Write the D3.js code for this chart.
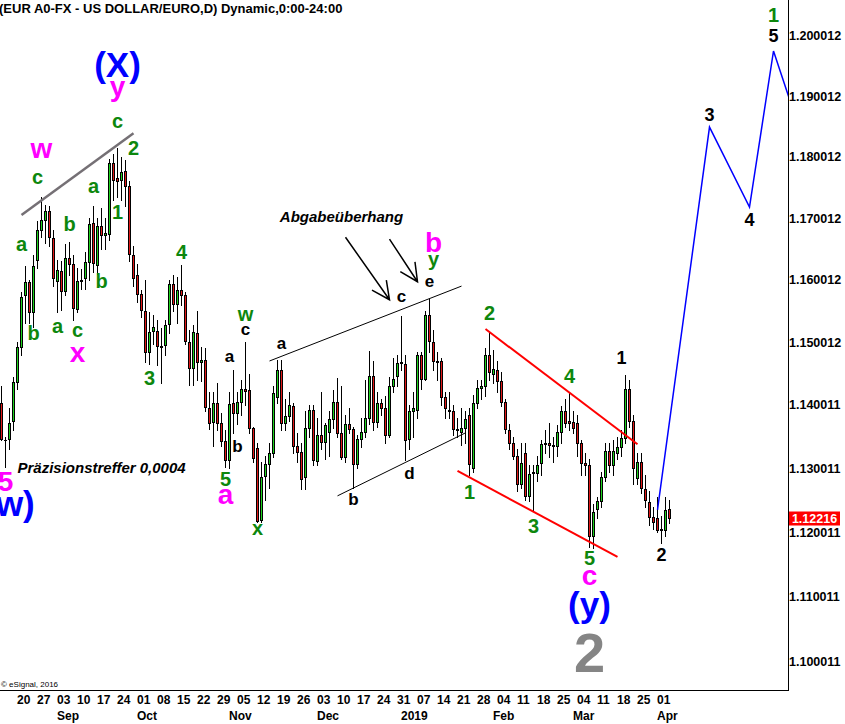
<!DOCTYPE html>
<html><head><meta charset="utf-8">
<script src="https://cdn.jsdelivr.net/npm/d3@7"></script>
<style>
body{margin:0;background:#fff;}
svg{display:block;font-family:"Liberation Sans",Arial,Helvetica,sans-serif;}
</style>
</head><body>
<svg id="c" width="845" height="724"></svg>
<script>
// ---------------- DATA ----------------
// daily OHLC rows: [day, open, high, low, close]
const aug2018 = [
 [14,1.1404,1.1430,1.1345,1.1346],[15,1.1345,1.1350,1.1302,1.1344],[16,1.1346,1.1395,1.1330,1.1372],
 [17,1.1375,1.1445,1.1360,1.1437],[20,1.1437,1.1500,1.1425,1.1493],[21,1.1492,1.1580,1.1480,1.1573],
 [22,1.1576,1.1623,1.1530,1.1597],[23,1.1597,1.1600,1.1530,1.1549],[24,1.1548,1.1640,1.1525,1.1622],
 [27,1.1632,1.1695,1.1620,1.1680],[28,1.1681,1.1735,1.1670,1.1697],[29,1.1697,1.1722,1.1660,1.1711],
 [30,1.1711,1.1720,1.1655,1.1669],[31,1.1667,1.1680,1.1590,1.1603]
];
const sep2018 = [
 [3,1.1598,1.1632,1.1548,1.1616],[4,1.1614,1.1630,1.1552,1.1582],[5,1.1582,1.1658,1.1576,1.1635],
 [6,1.1635,1.1662,1.1608,1.1625],[7,1.1625,1.1640,1.1535,1.1555],[10,1.1553,1.1620,1.1548,1.1598],
 [11,1.1598,1.1617,1.1585,1.1600],[12,1.1603,1.1645,1.1585,1.1629],[13,1.1629,1.1700,1.1600,1.1690],
 [14,1.1692,1.1720,1.1612,1.1627],[17,1.1624,1.1700,1.1610,1.1687],[18,1.1687,1.1717,1.1650,1.1673],
 [19,1.1673,1.1700,1.1650,1.1676],[20,1.1675,1.1797,1.1665,1.1790],[21,1.1790,1.1805,1.1730,1.1762],
 [24,1.1765,1.1815,1.1735,1.1760],[25,1.1762,1.1800,1.1730,1.1775],[26,1.1777,1.1795,1.1720,1.1753],
 [27,1.1752,1.1760,1.1630,1.1642],[28,1.1641,1.1655,1.1590,1.1603]
];
const oct2018 = [
 [1,1.1608,1.1625,1.1565,1.1577],[2,1.1577,1.1584,1.1541,1.1551],[3,1.1550,1.1600,1.1468,1.1485],
 [4,1.1484,1.1548,1.1465,1.1517],[5,1.1518,1.1543,1.1497,1.1525],[8,1.1518,1.1535,1.1464,1.1494],
 [9,1.1494,1.1523,1.1435,1.1492],[10,1.1495,1.1535,1.1480,1.1528],[11,1.1529,1.1600,1.1515,1.1594],
 [12,1.1594,1.1608,1.1550,1.1562],[15,1.1562,1.1605,1.1530,1.1583],[16,1.1584,1.1624,1.1560,1.1575],
 [17,1.1576,1.1580,1.1497,1.1502],[18,1.1501,1.1520,1.1432,1.1459],[19,1.1459,1.1528,1.1432,1.1516],
 [22,1.1514,1.1550,1.1440,1.1469],[23,1.1469,1.1493,1.1438,1.1471],[24,1.1472,1.1490,1.1390,1.1397],
 [25,1.1395,1.1420,1.1362,1.1371],[26,1.1373,1.1420,1.1336,1.1403],[29,1.1403,1.1435,1.1360,1.1371],
 [30,1.1371,1.1388,1.1336,1.1343],[31,1.1343,1.1360,1.1302,1.1314]
];
const nov2018 = [
 [1,1.1314,1.1420,1.1300,1.1401],[2,1.1403,1.1456,1.1356,1.1387],[5,1.1388,1.1420,1.1370,1.1405],
 [6,1.1405,1.1440,1.1385,1.1425],[7,1.1425,1.1500,1.1400,1.1422],[8,1.1424,1.1450,1.1355,1.1364],
 [9,1.1363,1.1366,1.1310,1.1316],[12,1.1332,1.1340,1.1216,1.1218],[13,1.1220,1.1310,1.1216,1.1286],
 [14,1.1288,1.1319,1.1250,1.1307],[15,1.1307,1.1340,1.1270,1.1325],[16,1.1325,1.1430,1.1318,1.1419],
 [19,1.1412,1.1472,1.1403,1.1455],[20,1.1455,1.1472,1.1360,1.1371],[21,1.1371,1.1410,1.1360,1.1382],
 [22,1.1382,1.1420,1.1375,1.1400],[23,1.1398,1.1404,1.1325,1.1335],[26,1.1335,1.1355,1.1310,1.1326],
 [27,1.1326,1.1340,1.1267,1.1284],[28,1.1286,1.1390,1.1267,1.1364],[29,1.1364,1.1400,1.1350,1.1392],
 [30,1.1392,1.1400,1.1305,1.1314]
];
const dec2018 = [
 [3,1.1312,1.1380,1.1305,1.1352],[4,1.1352,1.1420,1.1330,1.1341],[5,1.1341,1.1372,1.1315,1.1368],
 [6,1.1357,1.1390,1.1320,1.1378],[7,1.1378,1.1424,1.1363,1.1405],[10,1.1405,1.1443,1.1350,1.1355],
 [11,1.1355,1.1430,1.1315,1.1318],[12,1.1318,1.1385,1.1310,1.1370],[13,1.1370,1.1395,1.1355,1.1362],
 [14,1.1362,1.1366,1.1269,1.1307],[17,1.1307,1.1352,1.1300,1.1346],[18,1.1346,1.1380,1.1333,1.1358],
 [19,1.1358,1.1440,1.1350,1.1380],[20,1.1380,1.1486,1.1370,1.1446],[21,1.1446,1.1470,1.1360,1.1373],
 [24,1.1373,1.1420,1.1365,1.1403],[25,1.1403,1.1410,1.1385,1.1395],[26,1.1395,1.1415,1.1340,1.1353],
 [27,1.1353,1.1445,1.1350,1.1430],[28,1.1430,1.1475,1.1420,1.1441],[31,1.1446,1.1480,1.1430,1.1466]
];
const jan2019 = [
 [1,1.1466,1.1542,1.1455,1.1468],[2,1.1465,1.1480,1.1313,1.1345],[3,1.1346,1.1400,1.1330,1.1391],
 [4,1.1391,1.1420,1.1350,1.1395],[7,1.1392,1.1485,1.1380,1.1480],[8,1.1480,1.1485,1.1425,1.1442],
 [9,1.1442,1.1550,1.1440,1.1544],[10,1.1544,1.1570,1.1485,1.1502],[11,1.1501,1.1520,1.1455,1.1470],
 [14,1.1470,1.1485,1.1440,1.1469],[15,1.1470,1.1475,1.1400,1.1412],[16,1.1412,1.1420,1.1380,1.1395],
 [17,1.1392,1.1420,1.1380,1.1390],[18,1.1390,1.1400,1.1352,1.1362],[21,1.1362,1.1380,1.1350,1.1360],
 [22,1.1358,1.1396,1.1337,1.1363],[23,1.1363,1.1390,1.1340,1.1378],[24,1.1384,1.1395,1.1290,1.1307],
 [25,1.1300,1.1416,1.1295,1.1404],[28,1.1404,1.1440,1.1395,1.1427],[29,1.1427,1.1440,1.1410,1.1430],
 [30,1.1430,1.1490,1.1415,1.1480],[31,1.1480,1.1515,1.1440,1.1452]
];
const feb2019 = [
 [1,1.1450,1.1488,1.1435,1.1458],[4,1.1455,1.1470,1.1420,1.1438],[5,1.1438,1.1452,1.1398,1.1405],
 [6,1.1405,1.1410,1.1355,1.1362],[7,1.1360,1.1370,1.1330,1.1340],[8,1.1340,1.1350,1.1315,1.1320],
 [11,1.1320,1.1330,1.1265,1.1275],[12,1.1276,1.1340,1.1270,1.1309],[13,1.1325,1.1340,1.1250,1.1257],
 [14,1.1257,1.1305,1.1249,1.1292],[15,1.1293,1.1305,1.1234,1.1295],[18,1.1293,1.1320,1.1280,1.1305],
 [19,1.1309,1.1345,1.1290,1.1339],[20,1.1339,1.1360,1.1325,1.1340],[21,1.1340,1.1372,1.1318,1.1337],
 [22,1.1337,1.1350,1.1310,1.1335],[25,1.1336,1.1368,1.1320,1.1358],[26,1.1358,1.1398,1.1340,1.1390],
 [27,1.1390,1.1410,1.1365,1.1371],[28,1.1375,1.1420,1.1360,1.1372]
];
const mar2019 = [
 [1,1.1373,1.1390,1.1355,1.1363],[4,1.1371,1.1385,1.1320,1.1340],[5,1.1340,1.1345,1.1290,1.1308],
 [6,1.1308,1.1325,1.1290,1.1306],[7,1.1305,1.1315,1.1178,1.1194],[8,1.1194,1.1245,1.1176,1.1231],
 [11,1.1237,1.1255,1.1222,1.1249],[12,1.1249,1.1295,1.1240,1.1286],[13,1.1286,1.1340,1.1280,1.1327],
 [14,1.1327,1.1340,1.1295,1.1305],[15,1.1305,1.1345,1.1290,1.1327],[18,1.1325,1.1350,1.1315,1.1334],
 [19,1.1334,1.1360,1.1320,1.1348],[20,1.1348,1.1448,1.1340,1.1425],[21,1.1425,1.1440,1.1365,1.1374],
 [22,1.1374,1.1385,1.1275,1.1300],[25,1.1285,1.1325,1.1275,1.1310],[26,1.1310,1.1325,1.1262,1.1270],
 [27,1.1268,1.1290,1.1240,1.1250],[28,1.1248,1.1265,1.1212,1.1224],[29,1.1224,1.1240,1.1205,1.1216]
];
const apr2019 = [
 [1,1.1222,1.1255,1.1200,1.1204],[2,1.1204,1.1225,1.1183,1.1206],[3,1.1204,1.1255,1.1195,1.1235],
 [4,1.1237,1.1250,1.1215,1.1222]
];
const currentPrice = 1.12216;

// projected path [date, price]
const projection = [["2019-04-01",1.1235],["2019-04-18",1.1849],["2019-05-02",1.1718],["2019-05-10",1.1975],["2019-05-16",1.1895]];

// drawn trend lines [date, price] pairs
const grayTrend = [["2018-08-21",1.1705],["2018-09-28",1.1839]];
const channelUpper = [["2018-11-15",1.1470],["2019-01-22",1.1590]];
const channelLower = [["2018-12-10",1.1257],["2019-01-23",1.1356]];
const redUpper = [["2019-01-30",1.1521],["2019-03-25",1.1338]];
const redLower = [["2019-01-21",1.1296],["2019-03-18",1.1162]];
const arrows = [[["2018-12-12",1.1669],["2018-12-27",1.1568]],[["2018-12-27",1.1666],["2019-01-07",1.1597]]];

// axis labels
const priceTicks = ["1.200012","1.190012","1.180012","1.170012","1.160012","1.150012","1.140011","1.130011","1.120011","1.110011","1.100011"];
const weekTicks = ["2018-08-20","2018-08-27","2018-09-03","2018-09-10","2018-09-17","2018-09-24","2018-10-01","2018-10-08","2018-10-15","2018-10-22","2018-10-29","2018-11-05","2018-11-12","2018-11-19","2018-11-26","2018-12-03","2018-12-10","2018-12-17","2018-12-24","2018-12-31","2019-01-07","2019-01-14","2019-01-21","2019-01-28","2019-02-04","2019-02-11","2019-02-18","2019-02-25","2019-03-04","2019-03-11","2019-03-18","2019-03-25","2019-04-01"];
const monthTicks = [["Sep","2018-09-03"],["Oct","2018-10-01"],["Nov","2018-11-01"],["Dec","2018-12-03"],["2019","2019-01-01"],["Feb","2019-02-01"],["Mar","2019-03-01"],["Apr","2019-04-01"]];

// wave labels [text, date, price, style]
const waveLabels = [
 ["(X)","2018-09-24",1.1948,"blueBig"],["y","2018-09-24",1.1907,"magenta"],["c","2018-09-24",1.1856,"green"],
 ["w","2018-08-28",1.1810,"magenta"],["c","2018-08-27",1.1764,"green"],["a","2018-08-21",1.1655,"green"],
 ["b","2018-09-06",1.1690,"green"],["a","2018-09-14",1.1749,"green"],["b","2018-09-18",1.1598,"green"],
 ["1","2018-09-24",1.1710,"green"],["2","2018-09-28",1.1815,"green"],["b","2018-08-24",1.1515,"green"],
 ["a","2018-09-03",1.1523,"green"],["c","2018-09-10",1.1516,"green"],["x","2018-09-10",1.1480,"magenta"],
 ["4","2018-10-16",1.1645,"green"],["3","2018-10-04",1.1443,"green"],
 ["a","2018-11-01",1.1475,"black"],["b","2018-11-05",1.1335,"black"],["c","2018-11-07",1.1519,"black"],
 ["w","2018-11-07",1.1543,"green"],["5","2018-10-31",1.1283,"green"],["a","2018-10-31",1.1255,"magenta"],
 ["x","2018-11-12",1.1204,"green"],["a","2018-11-20",1.1496,"black"],["b","2018-12-14",1.1252,"black"],
 ["c","2019-01-01",1.1571,"black"],["d","2019-01-03",1.1293,"black"],["e","2019-01-10",1.1595,"black"],
 ["y","2019-01-11",1.1627,"green"],["b","2019-01-11",1.1661,"magenta"],
 ["1","2019-01-24",1.1263,"green"],["2","2019-01-31",1.1547,"green"],["3","2019-02-15",1.1211,"green"],
 ["4","2019-02-28",1.1446,"green"],["5","2019-03-07",1.1160,"green"],["c","2019-03-07",1.1129,"magenta"],
 ["(y)","2019-03-07",1.1084,"blueBig"],["2","2019-03-07",1.1015,"grayHuge"],
 ["1","2019-03-19",1.1475,"blackNum"],["2","2019-04-02",1.1165,"blackNum"],
 ["3","2019-04-18",1.1869,"blackNum"],["4","2019-05-02",1.1697,"blackNum"],["5","2019-05-10",1.2000,"blackNum"],
 ["1","2019-05-10",1.2035,"green"],["5","2018-08-15",1.1280,"magenta"],["(w)","2018-08-16",1.1241,"blueBig"]
];
const notes = [["Abgabeüberhang","2018-12-11",1.1702,"middle"],["Präzisionstreffer 0,0004","2018-08-20",1.1302,"start"]];

// ---------------- CHART ----------------
const svg = d3.select("#c");
const plotRight = 788, plotBottom = 690;
const base = Date.UTC(2018,7,20);
const parse = d3.utcParse("%Y-%m-%d");
function tIdx(s){const d=parse(s);const days=Math.round((d-base)/864e5);const w=Math.floor(days/7);const r=((days%7)+7)%7;return w*5+Math.min(r,4);}
const x = d3.scaleLinear().domain([0,160]).range([17.5,657.5]);
const y = d3.scaleLog().domain([1.1,1.2]).range([662,36]);

svg.append("rect").attr("width",845).attr("height",724).attr("fill","#fff");
svg.append("defs").append("clipPath").attr("id","clip").append("rect").attr("x",0).attr("y",0).attr("width",plotRight).attr("height",plotBottom);
const g = svg.append("g").attr("clip-path","url(#clip)");

const monthly=[["2018-08",aug2018],["2018-09",sep2018],["2018-10",oct2018],["2018-11",nov2018],["2018-12",dec2018],["2019-01",jan2019],["2019-02",feb2019],["2019-03",mar2019],["2019-04",apr2019]];
const bars = monthly.flatMap(([m,rows])=>rows.map(r=>{const date=m+"-"+String(r[0]).padStart(2,"0");return {date,i:tIdx(date),o:r[1],h:r[2],l:r[3],c:r[4]};}));

const gc = g.append("g").attr("shape-rendering","crispEdges");
gc.selectAll("line.w").data(bars).join("line").attr("class","w")
 .attr("x1",d=>x(d.i)).attr("x2",d=>x(d.i))
 .attr("y1",d=>Math.round(y(d.h))).attr("y2",d=>Math.round(y(d.l))+1)
 .attr("stroke","#000").attr("stroke-width",1);
bars.forEach(d=>{
 const top=Math.round(y(Math.max(d.o,d.c)))+0.5, bot=Math.round(y(Math.min(d.o,d.c)))+0.5;
 const cx=x(d.i);
 if(bot-top<1){
  gc.append("line").attr("x1",cx-1.5).attr("x2",cx+1.5).attr("y1",top).attr("y2",top).attr("stroke","#000");
 } else {
  gc.append("rect").attr("x",cx-1).attr("width",2).attr("y",top).attr("height",bot-top)
   .attr("fill",d.c>=d.o?"#1ed21e":"#e01818").attr("stroke","#000").attr("stroke-width",1);
 }
});

function seg(pts,color,w){
 g.append("path").attr("d",d3.line().x(p=>x(tIdx(p[0]))).y(p=>y(p[1]))(pts))
  .attr("fill","none").attr("stroke",color).attr("stroke-width",w);
}
seg(grayTrend,"#757075",2.5);
seg(channelUpper,"#000",1);
seg(channelLower,"#000",1);
seg(redUpper,"#ff0000",2);
seg(redLower,"#ff0000",2);
seg(projection,"#0000ff",1.5);
arrows.forEach(a=>{
 const x1=x(tIdx(a[0][0])),y1=y(a[0][1]),x2=x(tIdx(a[1][0])),y2=y(a[1][1]);
 const ang=Math.atan2(y2-y1,x2-x1)+Math.PI, L=20, s=26*Math.PI/180;
 g.append("path").attr("d",`M${x1},${y1}L${x2},${y2}M${x2+L*Math.cos(ang-s)},${y2+L*Math.sin(ang-s)}L${x2},${y2}L${x2+L*Math.cos(ang+s)},${y2+L*Math.sin(ang+s)}`)
  .attr("fill","none").attr("stroke","#000").attr("stroke-width",1.5);
});

// frame
svg.append("path").attr("d",`M0,${plotBottom+0.5}H${plotRight+0.5}V0`).attr("fill","none").attr("stroke","#000").attr("stroke-width",1).attr("shape-rendering","crispEdges");

// labels
const styles={green:[20,"#0d870d"],magenta:[28,"#ff00ff"],blueBig:[35,"#0000ff"],black:[17,"#000"],blackNum:[18,"#000"],grayHuge:[56,"#858585"]};
function dyFor(t){if(t[0]==="(")return 0.27;if(t==="y")return 0.16;if(/^[acewxs]+$/.test(t))return 0.26;return 0.36;}
const gl = svg.append("g").attr("clip-path","url(#clip)");
waveLabels.forEach(([t,d,p,s])=>{
 const [fs,col]=styles[s];
 gl.append("text").attr("x",x(tIdx(d))).attr("y",y(p)+dyFor(t)*fs).attr("text-anchor","middle")
  .attr("font-size",fs).attr("font-weight","bold").attr("fill",col).text(t);
});
notes.forEach(([t,d,p,anc])=>{
 gl.append("text").attr("x",x(tIdx(d))).attr("y",y(p)+0.36*15).attr("text-anchor",anc)
  .attr("font-size",15).attr("font-weight","bold").attr("font-style","italic").attr("fill","#000").text(t);
});

// title & copyright
svg.append("text").attr("x",-1).attr("y",12.5).attr("font-size",13).attr("font-weight","bold").text("(EUR A0-FX - US DOLLAR/EURO,D) Dynamic,0:00-24:00");
svg.append("text").attr("x",1).attr("y",687).attr("font-size",8).text("© eSignal, 2016");

// y axis
svg.append("g").selectAll("text").data(priceTicks).join("text")
 .attr("x",plotRight+1).attr("y",d=>y(+d)+4.5).attr("font-size",12.5).attr("font-weight","bold").text(d=>d);
const py=y(currentPrice);
svg.append("rect").attr("x",plotRight+1).attr("y",py-7).attr("width",51).attr("height",14).attr("fill","#ff0000");
svg.append("text").attr("x",plotRight+26.5).attr("y",py+4.5).attr("text-anchor","middle").attr("fill","#fff").attr("font-size",12.5).attr("font-weight","bold").text(currentPrice.toFixed(5));

// x axis
const fmt=d3.utcFormat("%d");
svg.append("g").selectAll("text").data(weekTicks).join("text")
 .attr("x",d=>x(tIdx(d))-0.5).attr("y",704).attr("font-size",12).attr("font-weight","bold").text(d=>fmt(parse(d)));
svg.append("g").selectAll("text").data(monthTicks).join("text")
 .attr("x",d=>x(tIdx(d[1]))-0.5).attr("y",720).attr("font-size",12).attr("font-weight","bold").text(d=>d[0]);
</script>
</body></html>
